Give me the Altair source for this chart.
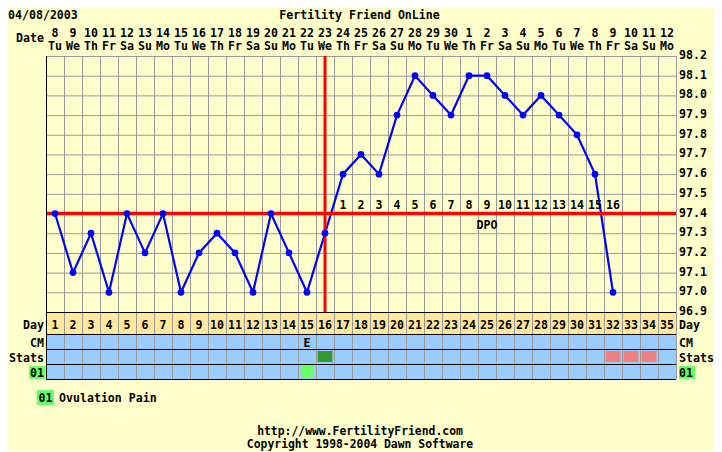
import altair as alt
import pandas as pd

# ---------------- data ----------------
cycle_days = list(range(1, 36))
date_numbers = ["8", "9", "10", "11", "12", "13", "14", "15", "16", "17", "18", "19",
                "20", "21", "22", "23", "24", "25", "26", "27", "28", "29", "30", "1",
                "2", "3", "4", "5", "6", "7", "8", "9", "10", "11", "12"]
weekdays = ["Tu", "We", "Th", "Fr", "Sa", "Su", "Mo", "Tu", "We", "Th", "Fr", "Sa",
            "Su", "Mo", "Tu", "We", "Th", "Fr", "Sa", "Su", "Mo", "Tu", "We", "Th",
            "Fr", "Sa", "Su", "Mo", "Tu", "We", "Th", "Fr", "Sa", "Su", "Mo"]
temp_days = list(range(1, 33))
temps = [97.4, 97.1, 97.3, 97.0, 97.4, 97.2, 97.4, 97.0, 97.2, 97.3, 97.2, 97.0,
         97.4, 97.2, 97.0, 97.3, 97.6, 97.7, 97.6, 97.9, 98.1, 98.0, 97.9, 98.1,
         98.1, 98.0, 97.9, 98.0, 97.9, 97.8, 97.6, 97.0]
coverline = [97.4]
ovulation_day = [16]
dpo_days = [17, 18, 19, 20, 21, 22, 23, 24, 25, 26, 27, 28, 29, 30, 31, 32]
dpo_labels = ["1", "2", "3", "4", "5", "6", "7", "8", "9", "10", "11", "12", "13",
              "14", "15", "16"]
dpo_word_day = [25]
cm_days = [15]
cm_labels = ["E"]
stats_green_days = [16]
stats_red_days = [32, 33, 34]
op_days = [15]
y_ticks = [96.9, 97.0, 97.1, 97.2, 97.3, 97.4, 97.5, 97.6, 97.7, 97.8, 97.9, 98.0,
           98.1, 98.2]
row_names = ["Day", "CM", "Stats", "01"]
row_tops = [0, 22, 37, 52]
row_bottoms = [22, 37, 52, 67]
row_fills = ["#FFE79C", "#99CCFF", "#99CCFF", "#99CCFF"]
row_label_base = [16.5, 35, 50, 65]

FONT = "DejaVu Sans Mono"
FS = 11.6
BG = "#FFFFCC"
GRID = "#999999"

W, H = 630, 323
xs = alt.Scale(domain=[0.5, 35.5], nice=False, zero=False)
ts = alt.Scale(domain=[96.9, 98.2], range=[256, 0], nice=False, zero=False)
rs = alt.Scale(domain=[0, 67], range=[256, 323], nice=False, zero=False)

bounds = [d - 0.5 for d in cycle_days] + [cycle_days[-1] + 0.5]


def T(**kw):
    base = dict(font=FONT, fontWeight="bold", fontSize=FS, color="black")
    base.update(kw)
    return base


# ---------------- temperature area ----------------
temp_df = pd.DataFrame({"day": temp_days, "temp": temps})

hg_df = pd.DataFrame({"y": y_ticks, "x0": 0.5, "x1": 35.5})
hgrid = alt.Chart(hg_df).mark_rule(color=GRID, strokeWidth=1, yOffset=0.5).encode(
    x=alt.X("x0:Q", scale=xs, axis=None), x2="x1:Q",
    y=alt.Y("y:Q", scale=ts, axis=None))

vgt_df = pd.DataFrame({"x": bounds, "y0": 96.9, "y1": 98.2})
vgrid = alt.Chart(vgt_df).mark_rule(color=GRID, strokeWidth=1, xOffset=0.5).encode(
    x=alt.X("x:Q", scale=xs, axis=None),
    y=alt.Y("y0:Q", scale=ts, axis=None), y2="y1:Q")

cover_df = pd.DataFrame({"x0": [0.5], "x1": [35.5], "y": coverline})
cover = alt.Chart(cover_df).mark_rule(color="#FF0000", strokeWidth=3.4).encode(
    x=alt.X("x0:Q", scale=xs, axis=None), x2="x1:Q",
    y=alt.Y("y:Q", scale=ts, axis=None))

ov_df = pd.DataFrame({"x": ovulation_day, "y0": [96.9], "y1": [98.2]})
ovl = alt.Chart(ov_df).mark_rule(color="#FF0000", strokeWidth=3).encode(
    x=alt.X("x:Q", scale=xs, axis=None),
    y=alt.Y("y0:Q", scale=ts, axis=None), y2="y1:Q")

left_df = pd.DataFrame({"x": [0.5], "y0": [96.9], "y1": [98.2]})
left_border = alt.Chart(left_df).mark_rule(color="black", strokeWidth=1, xOffset=0.5).encode(
    x=alt.X("x:Q", scale=xs, axis=None),
    y=alt.Y("y0:Q", scale=ts, axis=None), y2="y1:Q")

line = alt.Chart(temp_df).mark_line(color="#0000FF", strokeWidth=2.2).encode(
    x=alt.X("day:Q", scale=xs, axis=None),
    y=alt.Y("temp:Q", scale=ts,
            axis=alt.Axis(values=y_ticks, grid=False, format=".1f", labelFont=FONT,
                          labelFontWeight="bold", labelFontSize=FS,
                          labelColor="black", labelPadding=2, ticks=False,
                          domain=False, title=None, labelOverlap=False,
                          labelFlush=False)))

pts = alt.Chart(temp_df).mark_circle(color="#0000FF", size=46, opacity=1).encode(
    x=alt.X("day:Q", scale=xs, axis=None),
    y=alt.Y("temp:Q", scale=ts, axis=None))

dpo_df = pd.DataFrame({"day": dpo_days, "lab": dpo_labels, "y": coverline * len(dpo_days)})
dpo = alt.Chart(dpo_df).mark_text(**T(align="center", baseline="alphabetic", dy=-5)).encode(
    x=alt.X("day:Q", scale=xs, axis=None),
    y=alt.Y("y:Q", scale=ts, axis=None), text="lab:N")

dpow_df = pd.DataFrame({"day": dpo_word_day, "lab": ["DPO"], "y": coverline})
dpow = alt.Chart(dpow_df).mark_text(**T(align="center", baseline="alphabetic", dy=15)).encode(
    x=alt.X("day:Q", scale=xs, axis=None),
    y=alt.Y("y:Q", scale=ts, axis=None), text="lab:N")

rlab_df = pd.DataFrame({"y": y_ticks, "lab": [f"{v:.1f}" for v in y_ticks]})
rlab = alt.Chart(rlab_df).mark_text(**T(align="left", baseline="middle")).encode(
    x=alt.value(633), y=alt.Y("y:Q", scale=ts, axis=None), text="lab:N")

temp_group = alt.layer(hgrid, vgrid, line, cover, ovl, left_border, pts, dpo, dpow, rlab)

# ---------------- lower rows ----------------
rows_df = pd.DataFrame({"name": row_names, "top": row_tops, "bottom": row_bottoms,
                        "fill": row_fills, "x0": 0.5, "x1": 35.5,
                        "base": row_label_base})
row_bg = alt.Chart(rows_df).mark_rect().encode(
    x=alt.X("x0:Q", scale=xs, axis=None), x2="x1:Q",
    y=alt.Y("top:Q", scale=rs, axis=None), y2="bottom:Q",
    fill=alt.Fill("fill:N", scale=None))

vg_df = pd.DataFrame({"x": bounds, "y0": 0, "y1": 67})
row_vgrid = alt.Chart(vg_df).mark_rule(color=GRID, strokeWidth=1, xOffset=0.5).encode(
    x=alt.X("x:Q", scale=xs, axis=None),
    y=alt.Y("y0:Q", scale=rs, axis=None), y2="y1:Q")

hl_df = pd.DataFrame({"y": row_tops + [row_bottoms[-1]], "x0": 0.5, "x1": 35.5})
row_hlines = alt.Chart(hl_df).mark_rule(color="black", strokeWidth=1, yOffset=0.5).encode(
    x=alt.X("x0:Q", scale=xs, axis=None), x2="x1:Q",
    y=alt.Y("y:Q", scale=rs, axis=None))

lb_df = pd.DataFrame({"x": [0.5], "y0": [0], "y1": [67]})
row_left = alt.Chart(lb_df).mark_rule(color="black", strokeWidth=1, xOffset=0.5).encode(
    x=alt.X("x:Q", scale=xs, axis=None),
    y=alt.Y("y0:Q", scale=rs, axis=None), y2="y1:Q")

day_df = pd.DataFrame({"day": cycle_days, "lab": [str(d) for d in cycle_days],
                       "date": date_numbers, "wd": weekdays, "y": row_label_base[0]})
day_txt = alt.Chart(day_df).mark_text(**T(align="center", baseline="alphabetic")).encode(
    x=alt.X("day:Q", scale=xs, axis=None),
    y=alt.Y("y:Q", scale=rs, axis=None), text="lab:N")
date_txt = alt.Chart(day_df).mark_text(**T(align="center", baseline="alphabetic")).encode(
    x=alt.X("day:Q", scale=xs, axis=None), y=alt.value(-19), text="date:N")
wd_txt = alt.Chart(day_df).mark_text(**T(align="center", baseline="alphabetic")).encode(
    x=alt.X("day:Q", scale=xs, axis=None), y=alt.value(-6.5), text="wd:N")

cm_df = pd.DataFrame({"day": cm_days, "lab": cm_labels, "y": row_label_base[1]})
cm_txt = alt.Chart(cm_df).mark_text(**T(align="center", baseline="alphabetic")).encode(
    x=alt.X("day:Q", scale=xs, axis=None),
    y=alt.Y("y:Q", scale=rs, axis=None), text="lab:N")

cells = []
for d in stats_green_days:
    cells.append({"x0": d - 0.41, "x1": d + 0.41, "y0": row_tops[2] + 2,
                  "y1": row_bottoms[2] - 2, "fill": "#339933"})
for d in stats_red_days:
    cells.append({"x0": d - 0.41, "x1": d + 0.41, "y0": row_tops[2] + 2,
                  "y1": row_bottoms[2] - 2, "fill": "#F08080"})
for d in op_days:
    cells.append({"x0": d - 0.34, "x1": d + 0.34, "y0": row_tops[3] + 2,
                  "y1": row_bottoms[3] - 1.5, "fill": "#66FF66"})
cell_df = pd.DataFrame(cells)
cell_rects = alt.Chart(cell_df).mark_rect().encode(
    x=alt.X("x0:Q", scale=xs, axis=None), x2="x1:Q",
    y=alt.Y("y0:Q", scale=rs, axis=None), y2="y1:Q",
    fill=alt.Fill("fill:N", scale=None))

# row labels (left and right)
lab_df = rows_df[["name", "base"]]
box_df = pd.DataFrame({"y0": [54], "y1": [67]})
lbox = alt.Chart(box_df).mark_rect(color="#66FF66").encode(
    x=alt.value(-17), x2=alt.value(-1),
    y=alt.Y("y0:Q", scale=rs, axis=None), y2="y1:Q")
rbox = alt.Chart(box_df).mark_rect(color="#66FF66").encode(
    x=alt.value(633), x2=alt.value(649),
    y=alt.Y("y0:Q", scale=rs, axis=None), y2="y1:Q")
left_labs = alt.Chart(lab_df).mark_text(**T(align="right", baseline="alphabetic")).encode(
    x=alt.value(-2), y=alt.Y("base:Q", scale=rs, axis=None), text="name:N")
right_labs = alt.Chart(lab_df).mark_text(**T(align="left", baseline="alphabetic")).encode(
    x=alt.value(633), y=alt.Y("base:Q", scale=rs, axis=None), text="name:N")

one = pd.DataFrame({"k": [0]})


def free_text(text, x, y, align="left", size=FS):
    return alt.Chart(one).mark_text(**T(align=align, baseline="alphabetic", text=text,
                                        fontSize=size)).encode(
        x=alt.value(x), y=alt.value(y))


title_t = free_text("Fertility Friend OnLine", 313.5, -37.5, "center")
date_t = free_text("04/08/2003", -38, -37.5, "left")
datel_t = free_text("Date", -2, -14, "right")

leg_box = alt.Chart(one).mark_rect(color="#66FF66").encode(
    x=alt.value(-9.3), x2=alt.value(8), y=alt.value(334), y2=alt.value(349))
leg_code = free_text("01", -0.6, 346, "center")
leg_lab = free_text("Ovulation Pain", 13, 346, "left")
url_t = free_text("http://www.FertilityFriend.com", 314, 379, "center", 11.4)
copy_t = free_text("Copyright 1998-2004 Dawn Software", 314, 392, "center", 11.4)

row_group = alt.layer(row_bg, row_vgrid, row_hlines, row_left, day_txt, cm_txt,
                      cell_rects, lbox, rbox, left_labs, right_labs, date_txt,
                      wd_txt, title_t, date_t, datel_t, leg_box, leg_code, leg_lab,
                      url_t, copy_t)

chart = alt.layer(temp_group, row_group).resolve_scale(y="independent").properties(
    width=W, height=H,
    autosize=alt.AutoSizeParams(type="none"),
    padding={"left": 38, "top": 48, "right": 38, "bottom": 72},
    background=BG,
).configure_view(stroke=None, fill=BG)

chart.save("out.html", embed_options={"renderer": "svg", "actions": False})
